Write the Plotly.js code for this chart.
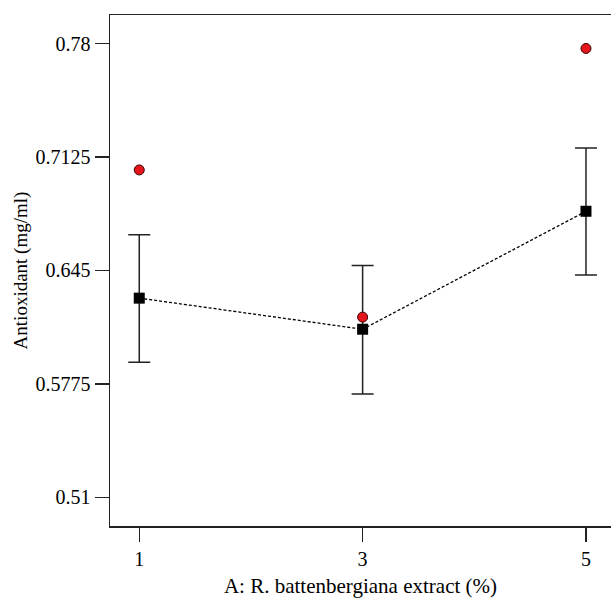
<!DOCTYPE html>
<html>
<head>
<meta charset="utf-8">
<script src="https://cdn.plot.ly/plotly-3.0.1.min.js"></script>
<style>html,body{margin:0;padding:0;background:#fff;}#chart{width:611px;height:598px;}</style>
</head>
<body>
<div id="chart"></div>
<script>
var extract = [1, 3, 5];
var predicted = [0.6285, 0.6100, 0.6802];
var errUpper = [0.0377, 0.0379, 0.0376];
var errLower = [0.0382, 0.0385, 0.0379];
var actualX = [1, 3, 5];
var actualY = [0.7048, 0.6172, 0.7771];
var yTicks = [0.51, 0.5775, 0.645, 0.7125, 0.78];
var yTickText = ['0.51', '0.5775', '0.645', '0.7125', '0.78'];
var xTicks = [1, 3, 5];

var traces = [
  {
    x: extract, y: predicted, type: 'scatter', mode: 'lines+markers',
    line: {color: '#000', width: 1.3, dash: '3px,2px'},
    marker: {symbol: 'square', size: 11, color: '#000'},
    error_y: {type: 'data', symmetric: false, array: errUpper, arrayminus: errLower,
              color: '#222', thickness: 1.5, width: 11},
    showlegend: false, hoverinfo: 'skip'
  },
  {
    x: actualX, y: actualY, type: 'scatter', mode: 'markers',
    marker: {symbol: 'circle', size: 10, color: '#e4161b', line: {color: '#3a0000', width: 1}},
    showlegend: false, hoverinfo: 'skip'
  }
];

var layout = {
  width: 611, height: 598,
  margin: {l: 110, r: 0, t: 15, b: 72},
  paper_bgcolor: '#fff', plot_bgcolor: '#fff',
  font: {family: 'Liberation Serif, Times New Roman, serif', size: 20, color: '#000'},
  xaxis: {
    range: [0.738, 5.224], tickvals: xTicks, ticktext: xTicks.map(String),
    ticks: 'outside', ticklen: 14, tickwidth: 1.5, tickcolor: '#222',
    showline: true, linecolor: '#222', linewidth: 1.5, mirror: true,
    showgrid: false, zeroline: false,
    tickfont: {size: 20},
    title: {text: 'A: R. battenbergiana extract (%)', font: {size: 21}, standoff: 14}
  },
  yaxis: {
    range: [0.4929, 0.7970], tickvals: yTicks, ticktext: yTickText,
    ticks: 'outside', ticklen: 14, tickwidth: 1.5, tickcolor: '#222',
    showline: true, linecolor: '#222', linewidth: 1.5, mirror: false,
    showgrid: false, zeroline: false,
    tickfont: {size: 20},
    title: {text: 'Antioxidant (mg/ml)', font: {size: 19}, standoff: 3}
  }
};

Plotly.newPlot('chart', traces, layout, {displayModeBar: false, staticPlot: true});
</script>
</body>
</html>
